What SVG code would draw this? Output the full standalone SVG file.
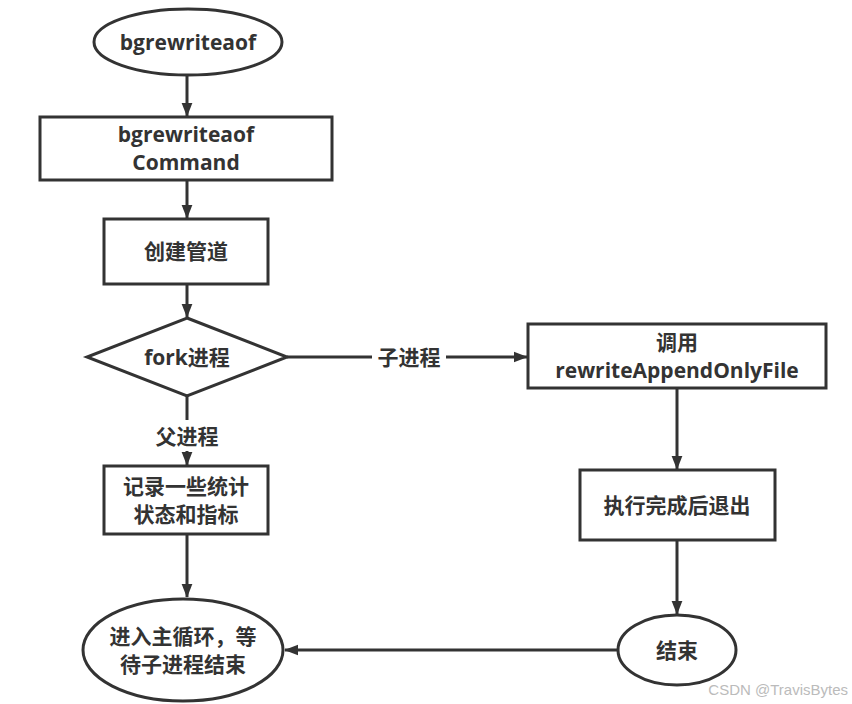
<svg xmlns="http://www.w3.org/2000/svg" width="852" height="704" viewBox="0 0 852 704">
<defs>
<marker id="ah" markerWidth="14" markerHeight="18" refX="17" refY="7" orient="auto" markerUnits="userSpaceOnUse" viewBox="0 0 18 14">
<path d="M0,0 L18,7 L0,14 z" fill="#333"/>
</marker>
<style>
.s{fill:#fff;stroke:#333;stroke-width:3}
.t{font-family:"Open Sans","Noto Sans CJK SC",sans-serif;font-size:21px;font-weight:bold;fill:#333;text-anchor:middle;dominant-baseline:central}
.c{fill:none;stroke:#333;stroke-width:3}
</style>
</defs>
<rect width="852" height="704" fill="#fff"/>
<g id="connectors">
<line class="c" x1="187" y1="75" x2="187" y2="116" marker-end="url(#ah)"/>
<line class="c" x1="187" y1="180" x2="187" y2="218" marker-end="url(#ah)"/>
<line class="c" x1="187" y1="284" x2="187" y2="317" marker-end="url(#ah)"/>
<line class="c" x1="187" y1="396" x2="187" y2="420"/>
<line class="c" x1="187" y1="451" x2="187" y2="465" marker-end="url(#ah)"/>
<text class="t" x="187" y="436">父进程</text>
<line class="c" x1="287" y1="357" x2="372" y2="357"/>
<line class="c" x1="446" y1="357" x2="527" y2="357" marker-end="url(#ah)"/>
<text class="t" x="409" y="357">子进程</text>
<line class="c" x1="187" y1="534" x2="187" y2="597" marker-end="url(#ah)"/>
<line class="c" x1="677" y1="388" x2="677" y2="469" marker-end="url(#ah)"/>
<line class="c" x1="677" y1="540" x2="677" y2="614" marker-end="url(#ah)"/>
<line class="c" x1="618" y1="650" x2="285" y2="650" marker-end="url(#ah)"/>
</g>
<g id="start">
<ellipse class="s" cx="188" cy="42" rx="94" ry="33"/>
<text class="t" x="188" y="42">bgrewriteaof</text>
</g>
<g id="command">
<rect class="s" x="40" y="117" width="292" height="63"/>
<text class="t" x="186" y="134">bgrewriteaof</text>
<text class="t" x="186" y="162">Command</text>
</g>
<g id="pipe">
<rect class="s" x="104" y="219" width="164" height="65"/>
<text class="t" x="186" y="251">创建管道</text>
</g>
<g id="fork">
<polygon class="s" points="187,318 287,357 187,396 87,357"/>
<text class="t" x="187" y="357">fork进程</text>
</g>
<g id="record">
<rect class="s" x="104" y="466" width="164" height="68"/>
<text class="t" x="186" y="486">记录一些统计</text>
<text class="t" x="186" y="514">状态和指标</text>
</g>
<g id="mainloop">
<ellipse class="s" cx="183" cy="650" rx="100" ry="51"/>
<text class="t" x="183" y="636">进入主循环，等</text>
<text class="t" x="183" y="664">待子进程结束</text>
</g>
<g id="rewrite">
<rect class="s" x="528" y="324" width="298" height="64"/>
<text class="t" x="677" y="342">调用</text>
<text class="t" x="677" y="370">rewriteAppendOnlyFile</text>
</g>
<g id="exit">
<rect class="s" x="580" y="470" width="195" height="70"/>
<text class="t" x="677" y="505">执行完成后退出</text>
</g>
<g id="end">
<ellipse class="s" cx="677" cy="650" rx="59" ry="35"/>
<text class="t" x="677" y="650">结束</text>
</g>
<text x="848" y="695" font-family="'Liberation Sans',sans-serif" font-size="15" fill="#bbb" text-anchor="end">CSDN @TravisBytes</text>
</svg>
